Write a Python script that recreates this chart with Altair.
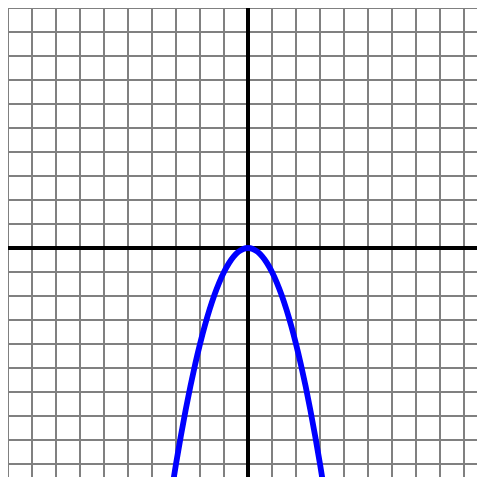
import altair as alt
import pandas as pd

# grid positions (units)
grid_vals = list(range(-10, 11))

# parabola points y = -x^2
px = [-3.2, -3.0, -2.8, -2.6, -2.4, -2.2, -2.0, -1.8, -1.6, -1.4, -1.2, -1.0, -0.8, -0.6, -0.4, -0.2, 0.0,
      0.2, 0.4, 0.6, 0.8, 1.0, 1.2, 1.4, 1.6, 1.8, 2.0, 2.2, 2.4, 2.6, 2.8, 3.0, 3.2]
py = [-10.24, -9.0, -7.84, -6.76, -5.76, -4.84, -4.0, -3.24, -2.56, -1.96, -1.44, -1.0, -0.64, -0.36, -0.16, -0.04, 0.0,
      -0.04, -0.16, -0.36, -0.64, -1.0, -1.44, -1.96, -2.56, -3.24, -4.0, -4.84, -5.76, -6.76, -7.84, -9.0, -10.24]

# visible window: 24 px per unit
W = 469
H = 469
xs = alt.Scale(domain=[-10, -10 + W / 24], nice=False, zero=False)
ys = alt.Scale(domain=[10 - H / 24, 10], nice=False, zero=False)

grid_df = pd.DataFrame({"v": grid_vals, "lo": -10, "hi": 10})
vgrid = alt.Chart(grid_df).mark_rule(color="#808080", strokeWidth=2, clip=True).encode(
    x=alt.X("v:Q", scale=xs, axis=None),
    y=alt.Y("lo:Q", scale=ys, axis=None),
    y2="hi:Q",
)
hgrid = alt.Chart(grid_df).mark_rule(color="#808080", strokeWidth=2, clip=True).encode(
    y=alt.Y("v:Q", scale=ys, axis=None),
    x=alt.X("lo:Q", scale=xs, axis=None),
    x2="hi:Q",
)

axis_df = pd.DataFrame({"z": [0], "lo": [-10], "hi": [10]})
vaxis = alt.Chart(axis_df).mark_rule(color="black", strokeWidth=4, clip=True).encode(
    x=alt.X("z:Q", scale=xs, axis=None),
    y=alt.Y("lo:Q", scale=ys, axis=None),
    y2="hi:Q",
)
haxis = alt.Chart(axis_df).mark_rule(color="black", strokeWidth=4, clip=True).encode(
    y=alt.Y("z:Q", scale=ys, axis=None),
    x=alt.X("lo:Q", scale=xs, axis=None),
    x2="hi:Q",
)

curve_df = pd.DataFrame({"x": px, "y": py})
curve = alt.Chart(curve_df).mark_line(color="blue", strokeWidth=5.8, interpolate="monotone", clip=True).encode(
    x=alt.X("x:Q", scale=xs, axis=None),
    y=alt.Y("y:Q", scale=ys, axis=None),
    order="x:Q",
)

chart = alt.layer(vgrid, hgrid, vaxis, haxis, curve).properties(
    width=W, height=H, padding=0, autosize=alt.AutoSizeParams(type="none")
).configure_view(stroke=None)

chart.save("out.html", embed_options={"renderer": "svg", "actions": False})
